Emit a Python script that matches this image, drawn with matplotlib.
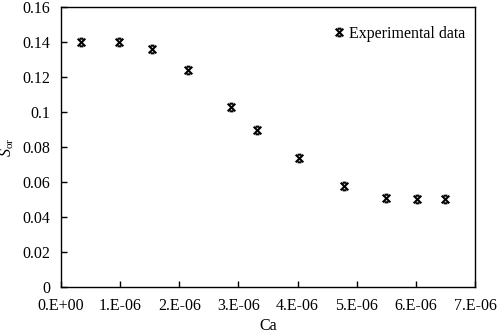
import matplotlib
matplotlib.use("Agg")
import matplotlib.pyplot as plt
from matplotlib.path import Path

plt.rcParams['font.family'] = ['Liberation Serif', 'DejaVu Serif']
plt.rcParams['mathtext.fontset'] = 'custom'
plt.rcParams['mathtext.rm'] = 'Liberation Serif'
plt.rcParams['mathtext.it'] = 'Liberation Serif:italic'

ca = [0.34e-6, 0.98e-6, 1.53e-6, 2.15e-6, 2.87e-6, 3.31e-6, 4.02e-6, 4.78e-6, 5.49e-6, 6.01e-6, 6.49e-6]
sor = [0.140, 0.140, 0.136, 0.124, 0.103, 0.090, 0.074, 0.058, 0.051, 0.0505, 0.0505]

xticks = [0, 1e-6, 2e-6, 3e-6, 4e-6, 5e-6, 6e-6, 7e-6]
xticklabels = ['0.E+00', '1.E-06', '2.E-06', '3.E-06', '4.E-06', '5.E-06', '6.E-06', '7.E-06']
yticks = [0, 0.02, 0.04, 0.06, 0.08, 0.1, 0.12, 0.14, 0.16]
yticklabels = ['0', '0.02', '0.04', '0.06', '0.08', '0.1', '0.12', '0.14', '0.16']

star = Path([(-1, -1), (1, 1), (-1, 1), (1, -1), (-0.5, 1), (0.5, 1), (-0.5, -1), (0.5, -1)],
            [Path.MOVETO, Path.LINETO, Path.MOVETO, Path.LINETO,
             Path.MOVETO, Path.LINETO, Path.MOVETO, Path.LINETO])

fig = plt.figure(figsize=(4.98, 3.34), dpi=100)
ax = fig.add_axes([0.1225, 0.1407, 0.8315, 0.8383])
ax.plot(ca, sor, linestyle='none', marker=star, markersize=5.5, markeredgewidth=1.5,
        color='black', label='Experimental data')
ax.set_xlim(0, 7e-6)
ax.set_ylim(0, 0.16)
ax.set_xticks(xticks)
ax.set_xticklabels(xticklabels)
ax.set_yticks(yticks)
ax.set_yticklabels(yticklabels)
ax.tick_params(direction='in', length=4, width=1, labelsize=11.5, colors='black', pad=8)
for s in ax.spines.values():
    s.set_linewidth(1.0)
    s.set_color('black')
ax.set_xlabel('Ca', fontsize=11.5, labelpad=3)
ax.set_ylabel(r'$S_{\mathrm{or}}$', fontsize=11.5, labelpad=4)
ax.legend(loc='upper right', frameon=False, fontsize=11.5, handletextpad=0.2,
          handlelength=0.8, bbox_to_anchor=(1.01, 0.985))
fig.savefig('out.png', dpi=100)
